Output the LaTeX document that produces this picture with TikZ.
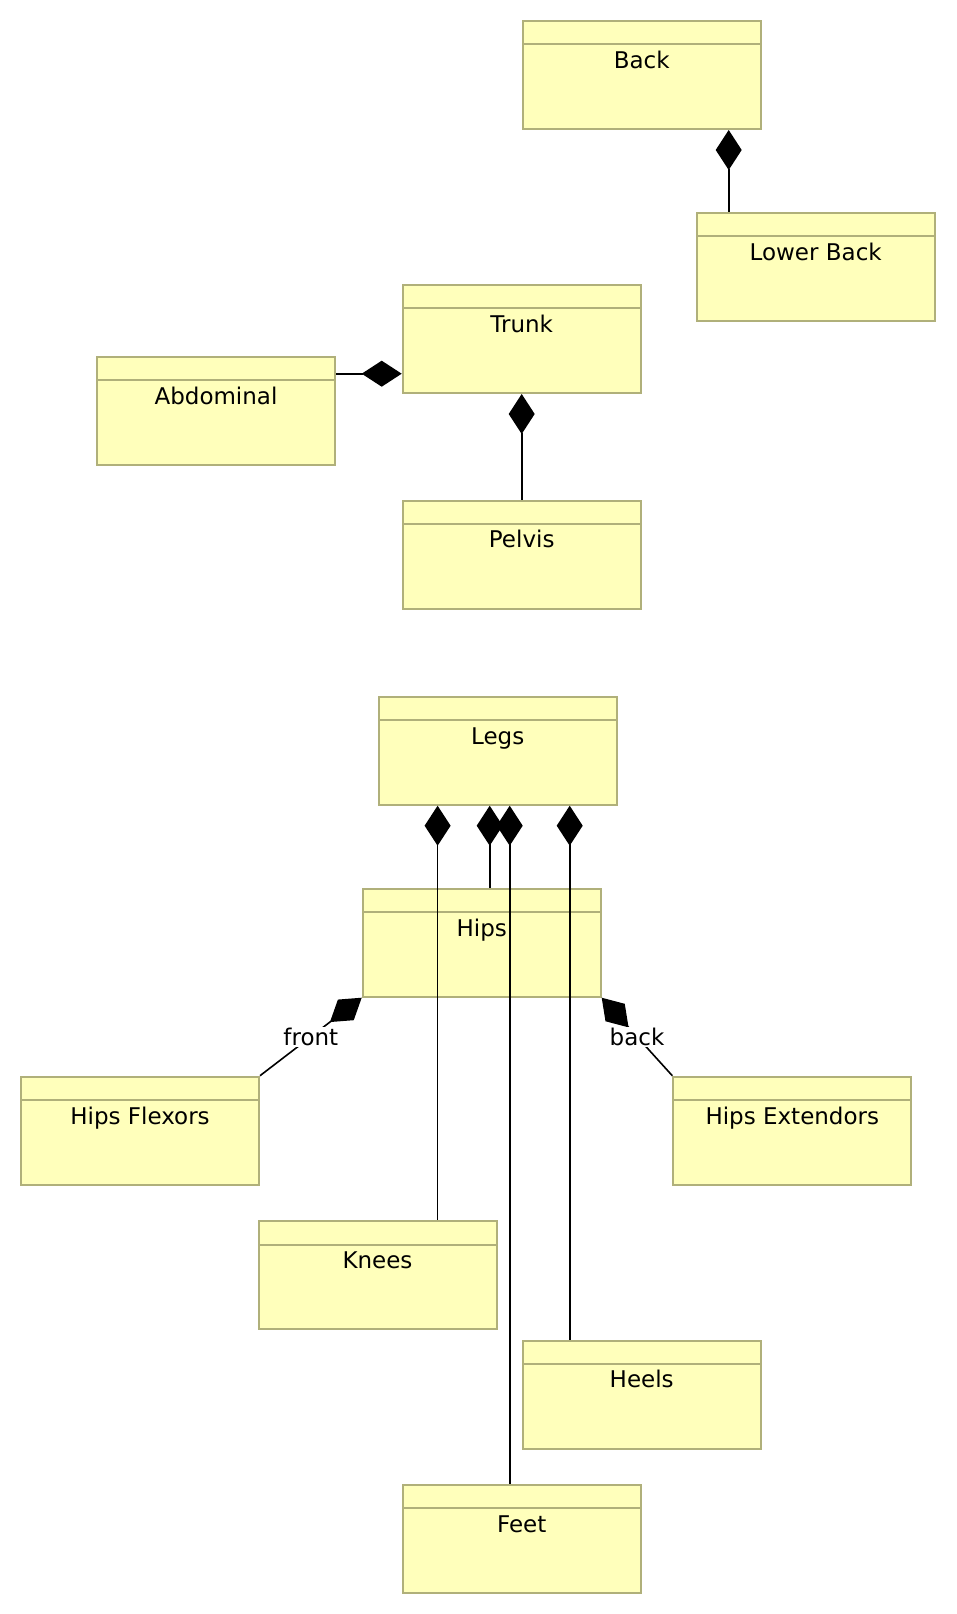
\documentclass[tikz,border=0pt]{standalone}
\usepackage{fontspec}
\setmainfont{DejaVu Sans}
\usetikzlibrary{calc,arrows.meta}

\definecolor{boxfill}{HTML}{FFFFBB}
\definecolor{boxedge}{HTML}{B0B07A}

\tikzset{
  umlbox/.style={draw=boxedge,fill=boxfill,line width=2pt,
    minimum width=238pt,minimum height=108pt,inner sep=0pt,
    text height=20pt,text depth=33.4pt,font=\fontsize{23}{27}\selectfont,
    path picture={\draw[boxedge,line width=2pt]
      ([yshift=-23.3pt]path picture bounding box.north west) --
      ([yshift=-23.3pt]path picture bounding box.north east);}},
  comp/.style={line width=1.6pt,{Diamond[length=40pt,width=26pt]}-},
  tag/.style={fill=white,inner sep=1pt,font=\fontsize{23}{27}\selectfont}
}

\begin{document}
\begin{tikzpicture}[x=1pt,y=-1pt]
  \path[use as bounding box,fill=white] (0,0) rectangle (956,1614);

  % upper part
  \node[umlbox] (Back) at (641.7,75) {Back};
  \node[umlbox] (LowerBack) at (815.7,266.7) {Lower Back};
  \node[umlbox] (Trunk) at (521.7,339) {Trunk};
  \node[umlbox] (Abdominal) at (216,411) {Abdominal};
  \node[umlbox] (Pelvis) at (521.7,554.6) {Pelvis};

  % lower part
  \node[umlbox] (Legs) at (497.7,750.7) {Legs};
  \node[umlbox] (Hips) at (481.7,942.7) {Hips};
  \node[umlbox] (HipsFlexors) at (140,1130.7) {Hips Flexors};
  \node[umlbox] (HipsExtendors) at (792.3,1130.7) {Hips Extendors};
  \node[umlbox] (Knees) at (377.5,1275.2) {Knees};
  \node[umlbox] (Heels) at (641.7,1394.5) {Heels};
  \node[umlbox] (Feet) at (521.7,1539) {Feet};

  \coordinate (b1) at ($(LowerBack.north west)!.5!(Back.south east)$);
  \coordinate (a1) at ($(Abdominal.north east)+(0,17.7)$);
  \coordinate (l1) at ($(Legs.south west)!.5!(Knees.north east)$);
  \coordinate (l2) at ($(Legs.south west)!.5!(Hips.north east)$);
  \coordinate (l3) at ($(Feet.north west)!.5!(Legs.south east)$);
  \coordinate (l4) at ($(Heels.north west)!.5!(Legs.south east)$);

  \draw[comp] (b1 |- Back.south) -- (b1 |- LowerBack.north);
  \draw[comp] (a1 -| Trunk.west) -- (a1);
  \draw[comp] (Trunk.south) -- (Pelvis.north);

  \draw[comp] (l1 |- Legs.south) -- (l1 |- Knees.north);
  \draw[comp] (l2 |- Legs.south) -- (l2 |- Hips.north);
  \draw[comp] (l3 |- Legs.south) -- (l3 |- Feet.north);
  \draw[comp] (l4 |- Legs.south) -- (l4 |- Heels.north);

  \draw[comp] (Hips.south west) -- node[tag] (front) {front} (HipsFlexors.north east);
  \draw[comp] (Hips.south east) -- node[tag] (back) {back} (HipsExtendors.north west);
\end{tikzpicture}
\end{document}
